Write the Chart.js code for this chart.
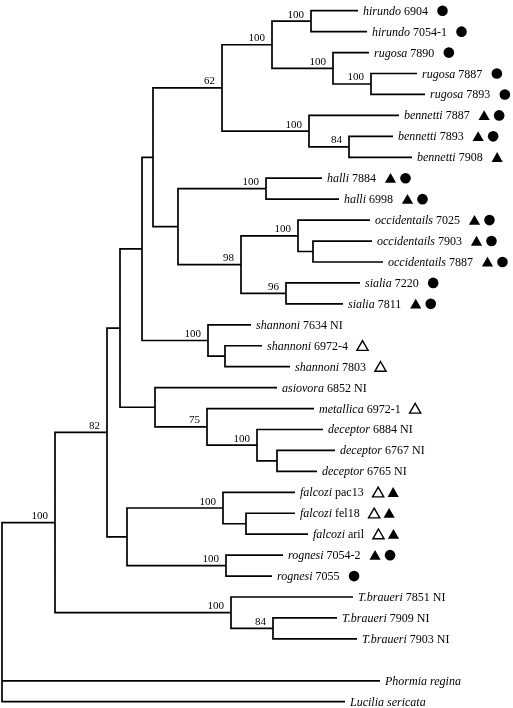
<!DOCTYPE html>
<html>
<head>
<meta charset="utf-8">
<script src="https://cdn.jsdelivr.net/npm/chart.js@4.4.1/dist/chart.umd.min.js"></script>
<style>
  html, body { margin: 0; padding: 0; background: #fff; }
  #wrap { position: relative; width: 513px; height: 708px; }
</style>
</head>
<body>
<div id="wrap"><canvas id="tree"></canvas></div>
<script>
// tips, top to bottom: italic name part, plain code part, host marks
const taxonItalic = ['hirundo', 'hirundo', 'rugosa', 'rugosa', 'rugosa', 'bennetti', 'bennetti', 'bennetti',
  'halli', 'halli', 'occidentails', 'occidentails', 'occidentails', 'sialia', 'sialia',
  'shannoni', 'shannoni', 'shannoni', 'asiovora', 'metallica', 'deceptor', 'deceptor', 'deceptor',
  'falcozi', 'falcozi', 'falcozi', 'rognesi', 'rognesi', 'T.braueri', 'T.braueri', 'T.braueri',
  'Phormia regina', 'Lucilia sericata'];
const taxonCode = ['6904', '7054-1', '7890', '7887', '7893', '7887', '7893', '7908',
  '7884', '6998', '7025', '7903', '7887', '7220', '7811',
  '7634 NI', '6972-4', '7803', '6852 NI', '6972-1', '6884 NI', '6767 NI', '6765 NI',
  'pac13', 'fel18', 'aril', '7054-2', '7055', '7851 NI', '7909 NI', '7903 NI', '', ''];
// o = open triangle, t = filled triangle, c = filled circle
const taxonMarks = ['c', 'c', 'c', 'c', 'c', 'tc', 'tc', 't', 'tc', 'tc', 'tc', 'tc', 'tc', 'c', 'tc',
  '', 'o', 'o', '', 'o', '', '', '', 'ot', 'ot', 'ot', 'tc', 'c', '', '', '', '', ''];
const leafParent = [26, 26, 27, 28, 28, 29, 30, 30, 20, 20, 22, 23, 23, 24, 24,
  15, 16, 16, 11, 12, 13, 14, 14, 7, 8, 8, 9, 9, 3, 4, 4, 0, 0];
const leafDepth = [0.356, 0.365, 0.367, 0.415, 0.423, 0.397, 0.391, 0.410, 0.320, 0.337, 0.368, 0.370, 0.381,
  0.358, 0.341, 0.249, 0.260, 0.288, 0.275, 0.312, 0.321, 0.333, 0.315, 0.293, 0.293, 0.306,
  0.281, 0.270, 0.351, 0.335, 0.355, 0.378, 0.343];
const OUTGROUP_FROM = 31; // blank row before the two outgroups

// internal nodes (0 = root)
const nodeParent = [-1, 0, 1, 1, 3, 2, 2, 6, 7, 6, 5, 5, 11, 12, 13, 10, 15, 10, 17, 17,
  19, 19, 21, 22, 21, 18, 25, 25, 27, 18, 29];
const nodeDepth = [0, 0.053, 0.105, 0.229, 0.271, 0.118, 0.125, 0.221, 0.244, 0.224, 0.140, 0.153,
  0.205, 0.255, 0.275, 0.206, 0.223, 0.151, 0.220, 0.176, 0.264, 0.239, 0.296, 0.311, 0.284,
  0.270, 0.309, 0.331, 0.369, 0.307, 0.347];
const nodeSupport = [null, 100, 82, 100, 84, null, null, 100, null, 100, null, null, 75, 100, null,
  100, null, null, 62, null, 100, 98, 100, null, 96, 100, 100, 100, 100, 100, 84];

// ---- layout of the tree from the data ----
const leafRow = taxonItalic.map((_, i) => i < OUTGROUP_FROM ? i : i + 1);
const kids = nodeParent.map(() => []);
leafParent.forEach((p, i) => kids[p].push({ leaf: i }));
nodeParent.forEach((p, i) => { if (p >= 0) kids[p].push({ node: i }); });

const nodeRow = [];
function rowOf(k) { return ('leaf' in k) ? leafRow[k.leaf] : nodeRowOf(k.node); }
function depthOf(k) { return ('leaf' in k) ? leafDepth[k.leaf] : nodeDepth[k.node]; }
function nodeRowOf(n) {
    if (nodeRow[n] === undefined) {
        const rows = kids[n].map(rowOf);
        nodeRow[n] = (Math.min(...rows) + Math.max(...rows)) / 2;
    }
    return nodeRow[n];
}
nodeRowOf(0);

const branchPts = [];
const GAP = { x: null, y: null };
kids.forEach((list, n) => {
    const sorted = list.slice().sort((a, b) => rowOf(a) - rowOf(b));
    const first = sorted[0], last = sorted[sorted.length - 1];
    const x = nodeDepth[n];
    branchPts.push({ x: depthOf(first), y: rowOf(first) }, { x: x, y: rowOf(first) },
                   { x: x, y: rowOf(last) }, { x: depthOf(last), y: rowOf(last) }, GAP);
    sorted.slice(1, -1).forEach(k => {
        branchPts.push({ x: x, y: rowOf(k) }, { x: depthOf(k), y: rowOf(k) }, GAP);
    });
});

// ---- labels, host marks and support values ----
const SERIF = '"Liberation Serif", "Times New Roman", serif';

function drawMark(ctx, kind, cx, cy) {
    ctx.beginPath();
    if (kind === 'c') {
        ctx.arc(cx, cy, 5.3, 0, Math.PI * 2);
        ctx.fill();
    } else {
        ctx.moveTo(cx, cy - 5.2);
        ctx.lineTo(cx + 5.6, cy + 4.6);
        ctx.lineTo(cx - 5.6, cy + 4.6);
        ctx.closePath();
        if (kind === 't') ctx.fill(); else ctx.stroke();
    }
}

const treeLabels = {
    id: 'treeLabels',
    afterDatasetsDraw(chart) {
        const { ctx, scales: { x: xs, y: ys } } = chart;
        ctx.save();
        ctx.fillStyle = '#000';
        ctx.strokeStyle = '#000';
        ctx.lineWidth = 1.4;
        ctx.textBaseline = 'alphabetic';

        taxonItalic.forEach((name, i) => {
            const py = ys.getPixelForValue(leafRow[i]);
            let px = xs.getPixelForValue(leafDepth[i]) + 5;
            ctx.textAlign = 'left';
            ctx.font = 'italic 12px ' + SERIF;
            ctx.fillText(name, px, py + 4);
            px += ctx.measureText(name).width;
            if (taxonCode[i]) {
                ctx.font = '12px ' + SERIF;
                const code = ' ' + taxonCode[i];
                ctx.fillText(code, px, py + 4);
                px += ctx.measureText(code).width;
            }
            let mx = px + 9 + 5.5;
            for (const m of taxonMarks[i]) {
                drawMark(ctx, m, mx, py);
                mx += 15;
            }
        });

        ctx.font = '11px ' + SERIF;
        ctx.textAlign = 'right';
        nodeSupport.forEach((s, n) => {
            if (s == null) return;
            ctx.fillText(String(s), xs.getPixelForValue(nodeDepth[n]) - 7,
                         ys.getPixelForValue(nodeRow[n]) - 3.5);
        });
        ctx.restore();
    }
};

new Chart(document.getElementById('tree'), {
    type: 'scatter',
    data: {
        datasets: [{
            data: branchPts,
            showLine: true,
            spanGaps: false,
            borderColor: '#000',
            borderWidth: 1.7,
            borderJoinStyle: 'miter',
            borderCapStyle: 'butt',
            pointRadius: 0,
            pointHoverRadius: 0,
            tension: 0
        }]
    },
    options: {
        responsive: true,
        maintainAspectRatio: false,
        animation: false,
        events: [],
        layout: { padding: 0, autoPadding: false },
        plugins: { legend: { display: false }, tooltip: { enabled: false } },
        scales: {
            x: { type: 'linear', display: false, min: -0.002, max: 0.511 },
            y: { type: 'linear', display: false, reverse: true, min: -0.511, max: 33.30 }
        }
    },
    plugins: [treeLabels]
});
</script>
</body>
</html>
